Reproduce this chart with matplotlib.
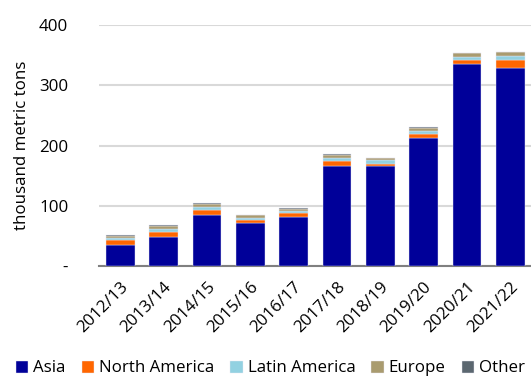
import numpy as np
import matplotlib.pyplot as plt

plt.rcParams['font.family'] = ['Open Sans', 'DejaVu Sans']

# Marketing years and exports by destination (thousand metric tons)
seasons = ["2012/13", "2013/14", "2014/15", "2015/16", "2016/17",
           "2017/18", "2018/19", "2019/20", "2020/21", "2021/22"]
asia = [34.7, 48.6, 84.0, 71.0, 81.7, 166.3, 165.7, 213.3, 334.8, 328.0]
north_america = [8.3, 8.8, 8.7, 6.3, 6.0, 8.3, 4.3, 6.1, 6.7, 14.0]
latin_america = [4.4, 3.8, 5.6, 3.3, 4.5, 5.4, 6.0, 5.0, 6.1, 6.7]
europe = [3.3, 5.6, 5.0, 3.4, 3.3, 4.6, 3.6, 5.0, 5.4, 6.3]
other = [0.6, 0.6, 0.6, 0.5, 0.5, 0.6, 0.5, 0.6, 0.6, 0.6]

series = [
    ("Asia", asia, "#000099"),
    ("North America", north_america, "#ff6600"),
    ("Latin America", latin_america, "#92d1e1"),
    ("Europe", europe, "#a99b6f"),
    ("Other", other, "#5b6770"),
]

FS = 12.2

fig = plt.figure(figsize=(5.31, 3.78), dpi=100)
ax = fig.add_axes([0.186, 0.296, 0.814, 0.638])

x = np.arange(len(seasons))
bottom = np.zeros(len(seasons))
for name, vals, color in series:
    ax.bar(x, vals, width=0.66, bottom=bottom, color=color, label=name,
           edgecolor="#e8e8f4", linewidth=0.3, zorder=3)
    bottom += np.array(vals)

ax.set_ylim(0, 400)
ax.set_xlim(-0.5, 9.48)
ax.set_yticks([0, 100, 200, 300, 400])
ax.set_yticklabels(["-", "100", "200", "300", "400"])
ax.yaxis.grid(True, color="#d9d9d9", linewidth=1.5, zorder=0)
ax.set_axisbelow(True)

ax.set_xticks(x)
ax.set_xticklabels(seasons, rotation=45, ha="right", rotation_mode="anchor")
ax.tick_params(axis="both", length=0, labelsize=FS, colors="black")
ax.tick_params(axis="x", pad=9)
ax.tick_params(axis="y", pad=22)

for side in ["top", "right", "left"]:
    ax.spines[side].set_visible(False)
ax.spines["bottom"].set_color("#808080")
ax.spines["bottom"].set_linewidth(1.5)

ax.set_ylabel("thousand metric tons", fontsize=FS)
ax.yaxis.set_label_coords(-0.16, 0.5)

fig.legend(loc="lower left", bbox_to_anchor=(0.03, 0.004), ncol=5,
           frameon=False, fontsize=FS, handlelength=0.72, handleheight=0.72,
           handletextpad=0.3, columnspacing=0.95, borderpad=0, borderaxespad=0)

fig.savefig("out.png", dpi=100)
